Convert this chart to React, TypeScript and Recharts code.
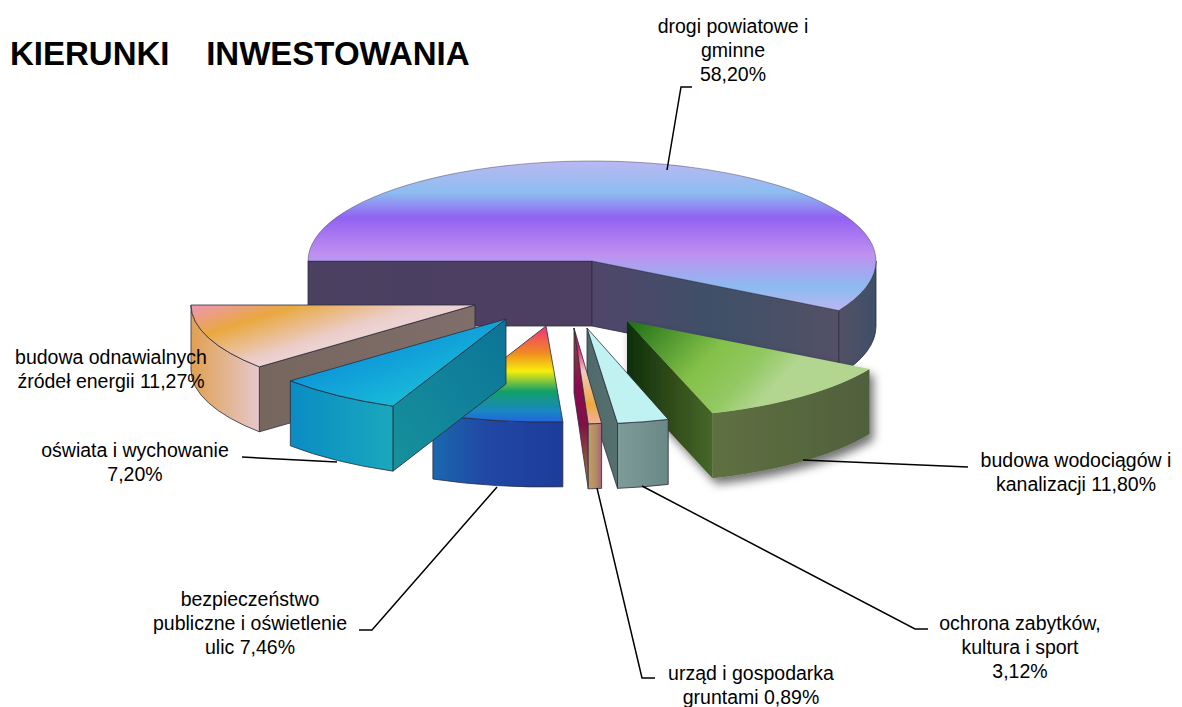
import { Pie, PieChart } from 'recharts'

// Values as printed on the labels, clockwise from the left edge of the big slice
const categories = [
  'drogi powiatowe i gminne',
  'budowa wodociągów i kanalizacji',
  'ochrona zabytków, kultura i sport',
  'urząd i gospodarka gruntami',
  'bezpieczeństwo publiczne i oświetlenie ulic',
  'oświata i wychowanie',
  'budowa odnawialnych źródeł energii',
]
const shares = [58.2, 11.8, 3.12, 0.89, 7.46, 7.2, 11.27]
const labelLines = [
  ['drogi powiatowe i', 'gminne', '58,20%'],
  ['budowa wodociągów i', 'kanalizacji 11,80%'],
  ['ochrona zabytków,', 'kultura i sport', '3,12%'],
  ['urząd i gospodarka', 'gruntami 0,89%'],
  ['bezpieczeństwo', 'publiczne i oświetlenie', 'ulic 7,46%'],
  ['oświata i wychowanie', '7,20%'],
  ['budowa odnawialnych', 'źródeł energii 11,27%'],
]
const title = 'KIERUNKI    INWESTOWANIA'

const data = categories.map((name, i) => ({ name, value: shares[i] }))

// Fake 3D: a squashed sector, a wall depth and how far each slice is pulled out
const CX = 592
const CY = 261
const DEPTH = 65
const explode = [
  { dx: 0, dy: 0, rx: 284, ry: 100 },
  { dx: 35, dy: 60, rx: 279, ry: 97 },
  { dx: -5, dy: 67, rx: 265, ry: 96 },
  { dx: -18, dy: 67, rx: 240, ry: 96 },
  { dx: -46, dy: 65, rx: 284, ry: 96 },
  { dx: -86, dy: 58, rx: 284, ry: 95 },
  { dx: -117, dy: 44, rx: 284, ry: 95 },
]

const sliceFills = [
  { top: 'topRoads', outer: 'outerRoads', radial: ['wallRoadsLeft', 'wallRoadsRight'] },
  { top: 'topWater', outer: 'outerWater', radial: ['none', 'wallWater'] },
  { top: 'topCulture', outer: 'outerCulture', radial: ['none', 'wallCulture'] },
  { top: 'topOffice', outer: 'outerOffice', radial: ['none', 'wallOffice'] },
  { top: 'topSafety', outer: 'outerSafety', radial: ['none', 'none'] },
  { top: 'topSchool', outer: 'outerSchool', radial: ['wallSchool', 'none'] },
  { top: 'topEnergy', outer: 'outerEnergy', radial: ['wallEnergy', 'none'] },
]

type Grad = { id: string; dir: number[]; stops: [number, string][]; user?: boolean }
const gradients: Grad[] = [
  { id: 'topRoads', dir: [0, 0, 0, 1], stops: [[0, '#bab8f2'], [0.21, '#8dbdf0'], [0.38, '#9262f2'], [0.62, '#c08ff0'], [0.85, '#8cbcf0'], [1, '#bcb6f2']] },
  { id: 'wallRoadsLeft', dir: [0, 0, 1, 0], stops: [[0, '#4a4060'], [1, '#4e3f63']] },
  { id: 'wallRoadsRight', dir: [0, 0, 1, 0], stops: [[0, '#50466a'], [0.5, '#3f5068'], [1, '#545066']] },
  { id: 'outerRoads', dir: [0, 0, 1, 0], stops: [[0, '#545066'], [1, '#3d5068']] },
  { id: 'topWater', dir: [627, 321, 740, 425], user: true, stops: [[0, '#1d6e16'], [0.55, '#84c149'], [0.8, '#92c862'], [1, '#b2d690']] },
  { id: 'outerWater', dir: [0, 0, 1, 0], stops: [[0, '#5f7040'], [1, '#50603c']] },
  { id: 'wallWater', dir: [0, 0, 1, 0], stops: [[0, '#0d2f0a'], [0.5, '#2f4a18'], [1, '#46682a']] },
  { id: 'topCulture', dir: [0, 0, 0, 1], stops: [[0, '#bff2f0'], [1, '#bff2f0']] },
  { id: 'outerCulture', dir: [0, 0, 1, 0], stops: [[0, '#7d9b97'], [1, '#6a8886']] },
  { id: 'wallCulture', dir: [0, 0, 1, 0], stops: [[0, '#4f6a6a'], [1, '#55706e']] },
  { id: 'topOffice', dir: [0, 0, 0, 1], stops: [[0, '#a0205a'], [0.2, '#e01878'], [0.45, '#f4c8c0'], [0.8, '#eeaa40'], [1, '#f0b0a0']] },
  { id: 'outerOffice', dir: [0, 0, 1, 0], stops: [[0, '#c2a060'], [0.6, '#b08a68'], [1, '#a86078']] },
  { id: 'wallOffice', dir: [0, 0, 0, 1], stops: [[0, '#7a5a30'], [0.35, '#8c0a50'], [0.6, '#801048'], [1, '#a08040']] },
  { id: 'topSafety', dir: [0, 0, 0, 1], stops: [[0, '#f0307c'], [0.28, '#f08a22'], [0.47, '#f6ee0c'], [0.68, '#12a068'], [0.88, '#1888c0'], [1, '#2264e0']] },
  { id: 'outerSafety', dir: [0, 0, 1, 0], stops: [[0, '#1a68ae'], [0.4, '#2048a4'], [1, '#1e3c9a']] },
  { id: 'topSchool', dir: [400, 330, 430, 410], user: true, stops: [[0, '#0c92d8'], [1, '#1cc4d8']] },
  { id: 'outerSchool', dir: [0, 0, 1, 0], stops: [[0, '#0a8cc4'], [1, '#1aa8bc']] },
  { id: 'wallSchool', dir: [0, 1, 1, 0], stops: [[0, '#16929c'], [1, '#0c7498']] },
  { id: 'topEnergy', dir: [192, 304, 217, 380], user: true, stops: [[0, '#ee96b4'], [0.14, '#ec9c90'], [0.42, '#e9a83f'], [0.9, '#ebcdca'], [1, '#ecd2d0']] },
  { id: 'outerEnergy', dir: [0, 0, 1, 0], stops: [[0, '#e0a050'], [1, '#e5c8cc']] },
  { id: 'wallEnergy', dir: [0, 0, 1, 0], stops: [[0, '#75665e'], [1, '#806e6a']] },
]

const RAD = Math.PI / 180

// One 3D slice, built from the angles Recharts computed for the sector
const Slice3D = (props: any) => {
  const { cx, cy, startAngle, endAngle, name, layer } = props
  const i = categories.indexOf(name ?? props.payload?.name)
  const wantLayer = i === 5 ? 'front' : 'base'
  if (layer !== wantLayer) return null

  const { dx, dy, rx, ry } = explode[i]
  const fills = sliceFills[i]
  const ax = cx + dx
  const ay = cy + dy
  const pt = (a: number, drop = 0) => [ax + rx * Math.cos(a * RAD), ay - ry * Math.sin(a * RAD) + drop]
  const [x0, y0] = pt(startAngle)
  const [x1, y1] = pt(endAngle)
  const large = startAngle - endAngle > 180 ? 1 : 0
  const top = `M${ax},${ay}L${x0},${y0}A${rx},${ry} 0 ${large} 1 ${x1},${y1}Z`

  const quad = (x: number, y: number) =>
    `M${ax},${ay}L${x},${y}L${x},${y + DEPTH}L${ax},${ay + DEPTH}Z`

  // the front part of the rim, below the horizontal axis
  const hi = Math.min(startAngle, 0)
  const lo = Math.max(endAngle, -180)
  const [hx, hy] = pt(hi)
  const [lx, ly] = pt(lo)
  const rim = `M${hx},${hy}A${rx},${ry} 0 0 1 ${lx},${ly}L${lx},${ly + DEPTH}A${rx},${ry} 0 0 0 ${hx},${hy + DEPTH}Z`

  const isWater = i === 1
  const stroke = isWater ? 'none' : '#2b2b3c'
  const sw = 0.8

  return (
    <g filter={isWater ? 'url(#waterShadow)' : undefined}>
      {fills.radial[0] !== 'none' && (
        <path d={quad(x0, y0)} fill={`url(#${fills.radial[0]})`} stroke={stroke} strokeWidth={sw} />
      )}
      {fills.radial[1] !== 'none' && (
        <path d={quad(x1, y1)} fill={`url(#${fills.radial[1]})`} stroke={stroke} strokeWidth={sw} />
      )}
      {hi > lo && <path d={rim} fill={`url(#${fills.outer})`} stroke={stroke} strokeWidth={sw} />}
      <path d={top} fill={`url(#${fills.top})`} stroke={stroke} strokeWidth={sw} strokeOpacity={i === 0 ? 0.5 : 1} />
    </g>
  )
}

// Text block and leader line for each slice
const labelPos = [
  { x: 733, y: 33 },
  { x: 1076, y: 467 },
  { x: 1020, y: 630 },
  { x: 751, y: 680 },
  { x: 250, y: 606 },
  { x: 135, y: 457 },
  { x: 111, y: 364 },
]
const leaders = [
  '692,87 681,87 667,170',
  '803,460 968,467',
  '642,486 915,629 928,629',
  '597,488 642,678 655,678',
  '497,487 372,630 359,630',
  '337,462 242,457',
  '',
]

const SliceLabel = (props: any) => {
  const i = categories.indexOf(props.name ?? props.payload?.name)
  const pos = labelPos[i]
  return (
    <g>
      {leaders[i] && <polyline points={leaders[i]} fill="none" stroke="#000" strokeWidth={1.5} />}
      {labelLines[i].map((line, k) => (
        <text
          key={k}
          x={pos.x}
          y={pos.y + k * 24}
          textAnchor="middle"
          fontFamily="Liberation Sans, Arial, sans-serif"
          fontSize={19.5}
          fill="#000"
        >
          {line}
        </text>
      ))}
    </g>
  )
}

export default function App() {
  return (
    <div style={{ position: 'absolute', left: 0, top: 0, width: 1182, height: 707, background: '#fff' }}>
      <PieChart width={1182} height={707} margin={{ top: 0, right: 0, bottom: 0, left: 0 }}>
        <defs>
          {gradients.map(g => (
            <linearGradient
              key={g.id}
              id={g.id}
              x1={g.dir[0]}
              y1={g.dir[1]}
              x2={g.dir[2]}
              y2={g.dir[3]}
              gradientUnits={g.user ? 'userSpaceOnUse' : 'objectBoundingBox'}
            >
              {g.stops.map(([offset, color]) => (
                <stop key={offset} offset={offset} stopColor={color} />
              ))}
            </linearGradient>
          ))}
          <filter id="waterShadow" x="-20%" y="-20%" width="150%" height="150%">
            <feDropShadow dx={4} dy={6} stdDeviation={5} floodColor="#000" floodOpacity={0.55} />
          </filter>
        </defs>
        <text
          x={10}
          y={65}
          fontFamily="Liberation Sans, Arial, sans-serif"
          fontWeight="bold"
          fontSize={33}
          fill="#000"
          style={{ whiteSpace: 'pre' }}
        >
          {title}
        </text>
        <Pie
          data={data}
          dataKey="value"
          nameKey="name"
          cx={CX}
          cy={CY}
          outerRadius={284}
          startAngle={180}
          endAngle={-180}
          stroke="none"
          isAnimationActive={false}
          shape={(p: any) => <Slice3D {...p} layer="base" />}
          inactiveShape={(p: any) => <Slice3D {...p} layer="base" />}
          label={SliceLabel}
          labelLine={false}
        />
        <Pie
          data={data}
          dataKey="value"
          nameKey="name"
          cx={CX}
          cy={CY}
          outerRadius={284}
          startAngle={180}
          endAngle={-180}
          stroke="none"
          isAnimationActive={false}
          shape={(p: any) => <Slice3D {...p} layer="front" />}
          inactiveShape={(p: any) => <Slice3D {...p} layer="front" />}
          label={false}
          labelLine={false}
        />
      </PieChart>
    </div>
  )
}
